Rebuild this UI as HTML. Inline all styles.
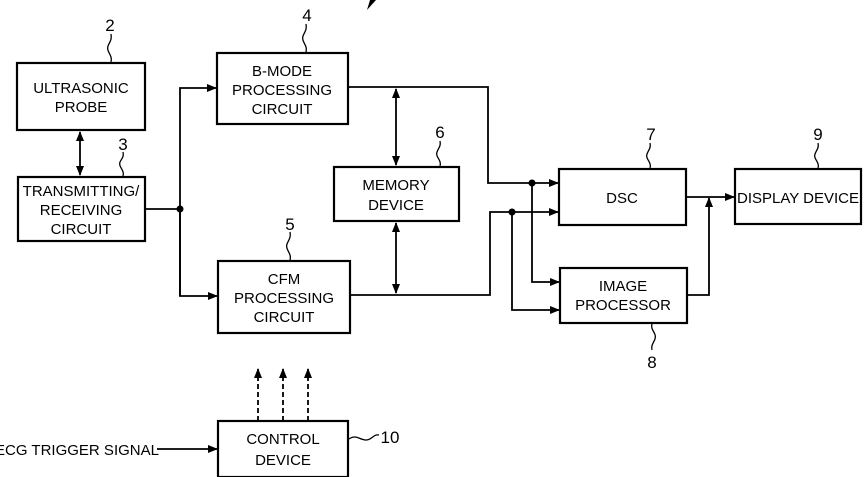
<!DOCTYPE html>
<html><head><meta charset="utf-8"><style>
html,body{margin:0;padding:0;background:#fff;}
svg{display:block;}
text{font-family:"Liberation Sans Narrow","Liberation Sans",sans-serif;font-size:15px;fill:#000;text-anchor:middle;}
.n{font-size:17px;}
</style></head><body>
<svg width="868" height="477" viewBox="0 0 868 477" xmlns="http://www.w3.org/2000/svg">
<defs>
<marker id="a" markerWidth="10" markerHeight="8" refX="9" refY="4" orient="auto-start-reverse" markerUnits="userSpaceOnUse">
<path d="M0,0 L10,4 L0,8 Z" fill="#000"/></marker>
</defs>
<g fill="none" stroke="#000" stroke-width="2.2">
<rect x="17" y="63" width="128" height="67"/>
<rect x="18" y="177" width="127" height="64"/>
<rect x="217" y="53" width="131" height="71"/>
<rect x="218" y="261" width="132" height="72"/>
<rect x="334" y="167" width="125" height="54"/>
<rect x="559" y="169" width="127" height="56"/>
<rect x="560" y="268" width="127" height="55"/>
<rect x="735" y="169" width="126" height="55"/>
<rect x="218" y="421" width="130" height="56"/>
</g>
<g fill="none" stroke="#000" stroke-width="1.8">
<line x1="80" y1="132" x2="80" y2="175" marker-start="url(#a)" marker-end="url(#a)"/>
<line x1="145" y1="209" x2="180" y2="209"/>
<polyline points="180,296 180,88 216,88" marker-end="url(#a)"/>
<polyline points="180,209 180,296 217,296" marker-end="url(#a)"/>
<polyline points="348,87 488,87 488,183 558,183" marker-end="url(#a)"/>
<polyline points="350,295 490,295 490,212 558,212" marker-end="url(#a)"/>
<line x1="396" y1="89" x2="396" y2="165" marker-start="url(#a)" marker-end="url(#a)"/>
<line x1="396" y1="223" x2="396" y2="293" marker-start="url(#a)" marker-end="url(#a)"/>
<polyline points="532,183 532,282 559,282" marker-end="url(#a)"/>
<polyline points="512,212 512,310 559,310" marker-end="url(#a)"/>
<line x1="686" y1="197" x2="734" y2="197" marker-end="url(#a)"/>
<polyline points="687,295 709,295 709,198" marker-end="url(#a)"/>
<line x1="157" y1="449" x2="217" y2="449" marker-end="url(#a)"/>
<g stroke-dasharray="5,3">
<line x1="258" y1="421" x2="258" y2="369" marker-end="url(#a)"/>
<line x1="283" y1="421" x2="283" y2="369" marker-end="url(#a)"/>
<line x1="308" y1="421" x2="308" y2="369" marker-end="url(#a)"/>
</g>
<g stroke-width="1.3">
<path d="M111,62 C113,55 106,52 108,46 C110,41 112,40 111,34"/>
<path d="M123,176 C125,170 118,167 120,162 C122,158 124,157 123,152"/>
<path d="M306,52 C308,45 301,42 303,36 C305,31 307,30 306,24"/>
<path d="M290,260 C292,253 285,250 287,244 C289,239 291,238 290,232"/>
<path d="M440,166 C442,160 435,157 437,152 C439,147 441,146 440,141"/>
<path d="M650,168 C652,162 645,159 647,154 C649,149 651,148 650,143"/>
<path d="M818,168 C820,162 813,159 815,154 C817,149 819,148 818,143"/>
<path d="M652,324 C650,330 657,333 655,339 C653,344 651,345 652,350"/>
<path d="M349,439 C356,434 360,440 366,440 C372,440 373,434 379,435"/>
</g>
</g>
<g fill="#000">
<circle cx="180" cy="209" r="3.5"/>
<circle cx="532" cy="183" r="3.5"/>
<circle cx="512" cy="212" r="3.5"/>
<polygon points="367,10 370,0 376,0"/>
</g>
<text x="81" y="93">ULTRASONIC</text><text x="81" y="112">PROBE</text>
<text x="81" y="196">TRANSMITTING/</text><text x="81" y="215">RECEIVING</text><text x="81" y="234">CIRCUIT</text>
<text x="282" y="76">B-MODE</text><text x="282" y="95">PROCESSING</text><text x="282" y="114">CIRCUIT</text>
<text x="284" y="284">CFM</text><text x="284" y="303">PROCESSING</text><text x="284" y="322">CIRCUIT</text>
<text x="396" y="190">MEMORY</text><text x="396" y="210">DEVICE</text>
<text x="622" y="203">DSC</text>
<text x="623" y="291">IMAGE</text><text x="623" y="310">PROCESSOR</text>
<text x="798" y="203">DISPLAY DEVICE</text>
<text x="283" y="444">CONTROL</text><text x="283" y="465">DEVICE</text>
<text x="77" y="455">ECG TRIGGER SIGNAL</text>
<text class="n" x="110" y="31">2</text>
<text class="n" x="123" y="150">3</text>
<text class="n" x="307" y="21">4</text>
<text class="n" x="290" y="230">5</text>
<text class="n" x="440" y="138">6</text>
<text class="n" x="651" y="140">7</text>
<text class="n" x="818" y="140">9</text>
<text class="n" x="652" y="368">8</text>
<text class="n" x="390" y="443">10</text>
</svg>
</body></html>
